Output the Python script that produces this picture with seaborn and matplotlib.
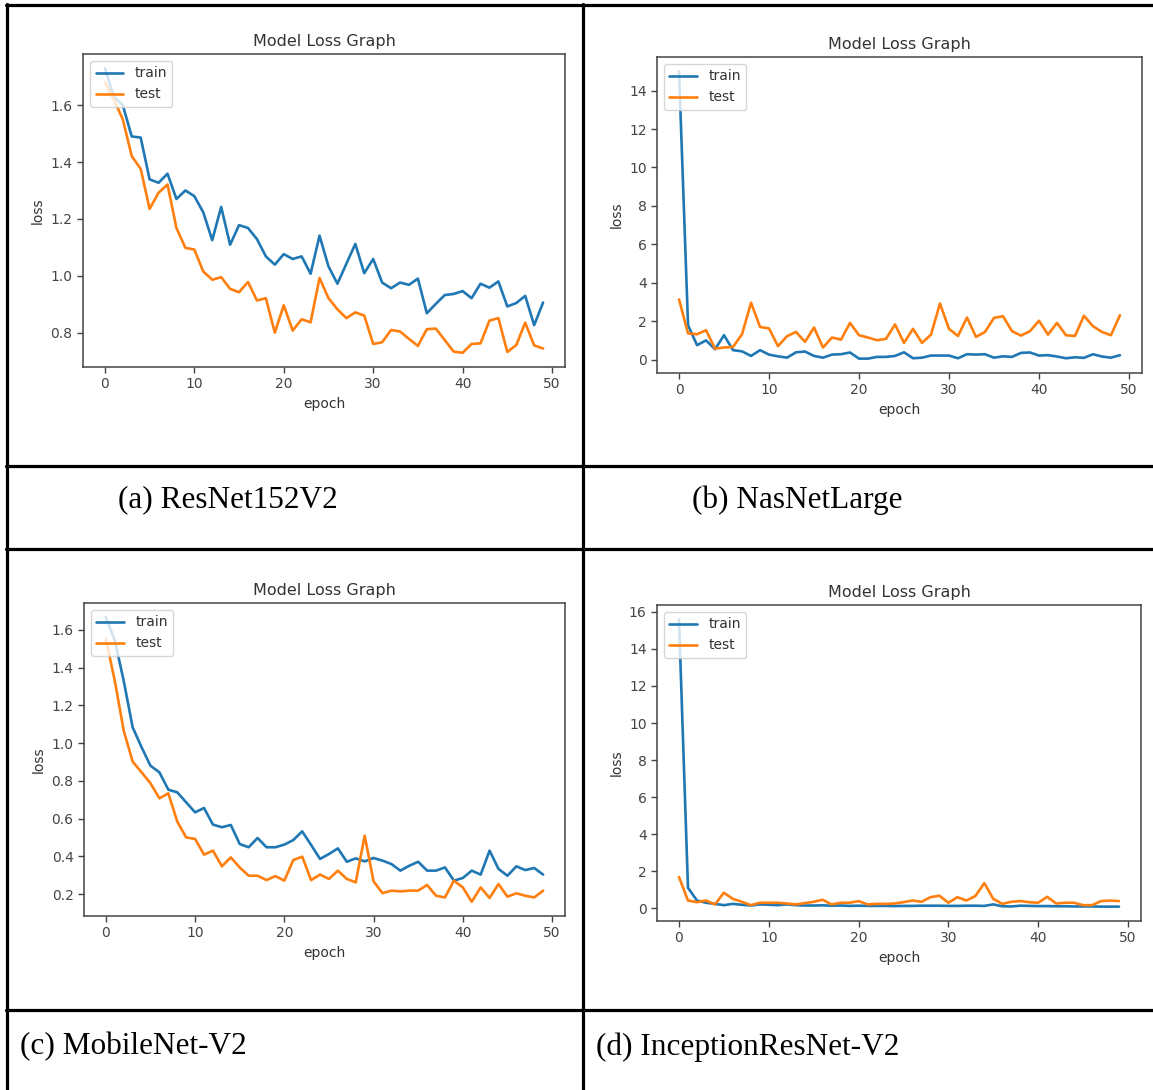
import numpy as np
import pandas as pd
import matplotlib
matplotlib.use("Agg")
import matplotlib.pyplot as plt
from matplotlib.lines import Line2D
import seaborn as sns

epochs = list(range(50))

resnet_train = [1.73, 1.63, 1.60, 1.49, 1.486, 1.339, 1.327, 1.359, 1.27, 1.30,
                1.28, 1.223, 1.125, 1.242, 1.109, 1.178, 1.168, 1.129, 1.068, 1.039,
                1.076, 1.059, 1.068, 1.007, 1.141, 1.033, 0.972, 1.042, 1.112, 1.009,
                1.059, 0.976, 0.956, 0.976, 0.968, 0.99, 0.868, 0.901, 0.932, 0.936,
                0.946, 0.921, 0.972, 0.958, 0.98, 0.892, 0.904, 0.929, 0.826, 0.906]
resnet_test = [1.68, 1.62, 1.55, 1.421, 1.376, 1.235, 1.292, 1.321, 1.168, 1.098,
               1.092, 1.015, 0.986, 0.995, 0.954, 0.942, 0.978, 0.913, 0.921, 0.80,
               0.896, 0.807, 0.847, 0.836, 0.992, 0.921, 0.882, 0.851, 0.871, 0.86,
               0.76, 0.766, 0.809, 0.804, 0.778, 0.753, 0.812, 0.814, 0.774, 0.733,
               0.729, 0.76, 0.762, 0.842, 0.851, 0.732, 0.756, 0.835, 0.755, 0.744]

nasnet_train = [15.0, 1.79, 0.75, 1.0, 0.54, 1.27, 0.49, 0.43, 0.19, 0.49,
                0.26, 0.17, 0.10, 0.38, 0.42, 0.19, 0.10, 0.26, 0.28, 0.37,
                0.05, 0.05, 0.14, 0.14, 0.19, 0.38, 0.07, 0.10, 0.21, 0.21,
                0.21, 0.07, 0.28, 0.26, 0.28, 0.10, 0.17, 0.14, 0.35, 0.37,
                0.21, 0.23, 0.16, 0.07, 0.12, 0.09, 0.28, 0.16, 0.10, 0.23]
nasnet_test = [3.13, 1.36, 1.32, 1.53, 0.57, 0.63, 0.66, 1.32, 2.96, 1.70,
               1.62, 0.70, 1.22, 1.44, 0.92, 1.67, 0.63, 1.15, 1.04, 1.91,
               1.27, 1.15, 1.01, 1.08, 1.83, 0.87, 1.60, 0.87, 1.30, 2.92,
               1.60, 1.23, 2.19, 1.18, 1.44, 2.17, 2.26, 1.48, 1.25, 1.48,
               2.02, 1.30, 1.91, 1.27, 1.23, 2.28, 1.74, 1.44, 1.27, 2.31]

mobilenet_train = [1.667, 1.544, 1.33, 1.084, 0.978, 0.88, 0.845, 0.753, 0.739, 0.686,
                   0.633, 0.656, 0.568, 0.554, 0.566, 0.465, 0.448, 0.497, 0.448, 0.448,
                   0.462, 0.486, 0.532, 0.46, 0.386, 0.412, 0.442, 0.371, 0.389, 0.373,
                   0.391, 0.377, 0.359, 0.324, 0.35, 0.371, 0.324, 0.324, 0.341, 0.271,
                   0.285, 0.324, 0.303, 0.43, 0.333, 0.297, 0.347, 0.327, 0.338, 0.303]
mobilenet_test = [1.552, 1.33, 1.066, 0.902, 0.845, 0.787, 0.707, 0.734, 0.584, 0.50,
                  0.492, 0.409, 0.43, 0.347, 0.394, 0.341, 0.297, 0.297, 0.274, 0.295,
                  0.271, 0.38, 0.398, 0.274, 0.303, 0.28, 0.324, 0.28, 0.262, 0.509,
                  0.267, 0.205, 0.218, 0.214, 0.218, 0.218, 0.248, 0.191, 0.182, 0.271,
                  0.235, 0.159, 0.235, 0.179, 0.253, 0.186, 0.204, 0.191, 0.182, 0.218]

inception_train = [15.6, 1.10, 0.41, 0.29, 0.23, 0.16, 0.23, 0.18, 0.14, 0.20,
                   0.18, 0.16, 0.20, 0.16, 0.14, 0.14, 0.15, 0.13, 0.14, 0.12,
                   0.13, 0.12, 0.12, 0.12, 0.11, 0.12, 0.12, 0.13, 0.13, 0.13,
                   0.12, 0.12, 0.13, 0.13, 0.12, 0.20, 0.10, 0.09, 0.13, 0.12,
                   0.11, 0.11, 0.10, 0.10, 0.09, 0.09, 0.09, 0.08, 0.08, 0.08]
inception_test = [1.68, 0.41, 0.32, 0.41, 0.20, 0.83, 0.50, 0.34, 0.16, 0.29,
                  0.29, 0.29, 0.25, 0.20, 0.27, 0.34, 0.45, 0.20, 0.29, 0.29,
                  0.38, 0.20, 0.23, 0.23, 0.25, 0.32, 0.41, 0.34, 0.59, 0.67,
                  0.29, 0.59, 0.41, 0.65, 1.35, 0.50, 0.23, 0.34, 0.38, 0.32,
                  0.29, 0.61, 0.25, 0.29, 0.29, 0.16, 0.16, 0.38, 0.41, 0.38]

captions = ["(a) ResNet152V2", "(b) NasNetLarge", "(c) MobileNet-V2", "(d) InceptionResNet-V2"]
series_names = ["train", "test"]
title_text = "Model Loss Graph"
x_label = "epoch"
y_label = "loss"

panels = [
    (resnet_train, resnet_test, np.arange(0.8, 1.61, 0.2)),
    (nasnet_train, nasnet_test, np.arange(0, 15, 2)),
    (mobilenet_train, mobilenet_test, np.arange(0.2, 1.61, 0.2)),
    (inception_train, inception_test, np.arange(0, 17, 2)),
]

sns.set_style("ticks")
plt.rcParams['font.family'] = ['DejaVu Sans']

W, H = 1153, 1090
fig = plt.figure(figsize=(W / 100, H / 100), dpi=100)

# axes boxes in pixels: left, right, top, bottom
boxes = [(83, 565, 54, 367), (657, 1142, 57, 373),
         (84, 565, 603, 916), (657, 1141, 605, 921)]

gray = "#444444"
for (tr, te, yt), (l, r, t, b) in zip(panels, boxes):
    ax = fig.add_axes([l / W, 1 - b / H, (r - l) / W, (b - t) / H])
    df = pd.DataFrame({"epoch": epochs * 2,
                       "loss": tr + te,
                       "series": [series_names[0]] * 50 + [series_names[1]] * 50})
    sns.lineplot(data=df, x="epoch", y="loss", hue="series",
                 palette=["#1f77b4", "#ff7f0e"], linewidth=1.9, ax=ax)
    ax.set_xticks([0, 10, 20, 30, 40, 50])
    ax.set_yticks(yt)
    ax.set_yticklabels([f"{v:g}" if abs(v - round(v)) < 1e-9 and v >= 2 or v == 0 else f"{v:.1f}" for v in yt])
    ax.tick_params(labelsize=10, colors=gray, length=4, width=1)
    for s in ax.spines.values():
        s.set_visible(True)
        s.set_color(gray)
        s.set_linewidth(1.1)
    ax.set_title(title_text, fontsize=11.5, color="#333333", pad=6)
    ax.set_xlabel(x_label, fontsize=10, color="#333333")
    ax.set_ylabel(y_label, fontsize=10, color="#333333")
    leg = ax.legend(loc="upper left", fontsize=10, frameon=True, handlelength=2.0,
                    borderpad=0.4, labelspacing=0.5)
    leg.get_frame().set_edgecolor("#cccccc")
    for txt in leg.get_texts():
        txt.set_color("#333333")

# table lines of the document layout
def hline(y, x0=0, x1=W):
    fig.add_artist(Line2D([x0 / W, x1 / W], [1 - y / H, 1 - y / H], color="black", lw=2.3))

def vline(x, y0=0, y1=H):
    fig.add_artist(Line2D([x / W, x / W], [1 - y0 / H, 1 - y1 / H], color="black", lw=2.3))

hline(5, 6)
hline(466, 6)
hline(549, 6)
hline(1010, 6)
vline(7, 4, H)
vline(583, 4, H)

caption_pos = [(118, 500), (692, 500), (20, 1047), (596, 1047)]
for cap, (x, y) in zip(captions, caption_pos):
    fig.text(x / W, 1 - y / H, cap, fontsize=22.5, family="Liberation Serif",
             ha="left", va="center", color="black")

fig.savefig("out.png", dpi=100)
